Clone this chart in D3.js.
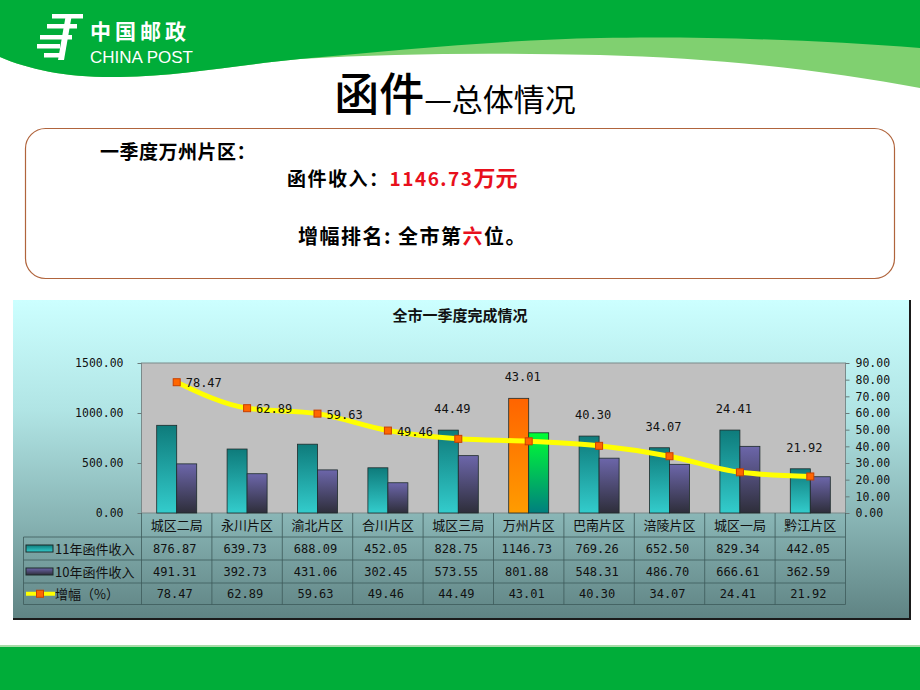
<!DOCTYPE html>
<html>
<head>
<meta charset="utf-8">
<script src="https://cdn.jsdelivr.net/npm/d3@7"></script>
<style>
  body { margin: 0; background: #fff; }
  svg { display: block; font-family: "Noto Sans CJK SC", "Noto Sans", sans-serif; }
  .num { font-family: "DejaVu Sans Mono", monospace; }
</style>
</head>
<body>
<svg id="page" width="920" height="690"></svg>
<script>
// 全市一季度完成情况 - 函件
const categories = ["城区二局", "永川片区", "渝北片区", "合川片区", "城区三局", "万州片区", "巴南片区", "涪陵片区", "城区一局", "黔江片区"];
const income11 = [876.87, 639.73, 688.09, 452.05, 828.75, 1146.73, 769.26, 652.50, 829.34, 442.05];
const income10 = [491.31, 392.73, 431.06, 302.45, 573.55, 801.88, 548.31, 486.70, 666.61, 362.59];
const growth = [78.47, 62.89, 59.63, 49.46, 44.49, 43.01, 40.30, 34.07, 24.41, 21.92];
const seriesNames = ["11年函件收入", "10年函件收入", "增幅（%）"];
const leftTicks = [0, 500, 1000, 1500];
const rightTicks = [0, 10, 20, 30, 40, 50, 60, 70, 80, 90];
const highlight = "万州片区";

const svg = d3.select("#page");
const defs = svg.append("defs");

function vGrad(id, stops) {
  const g = defs.append("linearGradient").attr("id", id)
    .attr("x1", 0).attr("y1", 0).attr("x2", 0).attr("y2", 1);
  stops.forEach(s => g.append("stop").attr("offset", s[0]).attr("stop-color", s[1]));
}
vGrad("panelBg", [[0, "#ccffff"], [0.35, "#b0e4e4"], [0.7, "#86b2b2"], [1, "#5f8383"]]);
vGrad("teal", [[0, "#0e7b7b"], [1, "#33cccc"]]);
vGrad("purple", [[0, "#6c66aa"], [1, "#2e2e3a"]]);
vGrad("orange", [[0, "#ff6400"], [1, "#ff9c00"]]);
vGrad("green", [[0, "#00ff33"], [1, "#007f7f"]]);

// ---- page header ----
svg.append("path")
  .attr("d", "M0,0H920V88C830,71 720,58 600,55C500,53 400,53 300,59C230,66 180,76 120,77C70,78 30,70 0,57Z")
  .attr("fill", "#80d070");
svg.append("path")
  .attr("d", "M0,0H920V48C820,40 700,36 600,38C500,40 400,50 300,59C230,66 180,76 120,77C70,78 30,70 0,57Z")
  .attr("fill", "#00ad39");

// China Post logo (simplified)
const logo = svg.append("g").attr("fill", "#fff");
[[52, 14, 31], [47, 24, 30], [40, 35, 32], [37, 44, 23], [44, 53, 20]].forEach(d => {
  logo.append("rect").attr("x", d[0]).attr("y", d[1]).attr("width", d[2]).attr("height", 4.5);
});
logo.append("path").attr("d", "M66,14 L72,14 L64,60 L58,60 Z");
svg.append("text").attr("x", 90).attr("y", 39)
  .attr("fill", "#fff").attr("font-size", 21).attr("font-weight", 700)
  .attr("letter-spacing", 4).text("中国邮政");
svg.append("text").attr("x", 90).attr("y", 63)
  .attr("fill", "#fff").attr("font-size", 17).attr("font-family", "Liberation Sans")
  .attr("textLength", 103).text("CHINA POST");

// page title
const title = svg.append("text").attr("x", 455).attr("y", 111)
  .attr("text-anchor", "middle").attr("fill", "#000");
title.append("tspan").attr("font-size", 45).attr("font-weight", 500).text("函件");
title.append("tspan").attr("font-size", 31).text("—总体情况");

// summary box
svg.append("rect").attr("x", 25.5).attr("y", 128.5).attr("width", 869).attr("height", 150)
  .attr("rx", 20).attr("fill", "#fff").attr("stroke", "#b0643c").attr("stroke-width", 1.2);
svg.append("text").attr("x", 100).attr("y", 159).attr("font-size", 19).attr("font-weight", 700)
  .attr("letter-spacing", 0.5).text("一季度万州片区：");
const t2 = svg.append("text").attr("x", 287).attr("y", 186).attr("font-size", 19).attr("font-weight", 700)
  .attr("letter-spacing", 1.5);
t2.append("tspan").text("函件收入：");
t2.append("tspan").attr("fill", "#e8101c").text("1146.73");
t2.append("tspan").attr("fill", "#e8101c").attr("font-size", 22).attr("letter-spacing", 0).text("万元");
const t3 = svg.append("text").attr("x", 298).attr("y", 244).attr("font-size", 20).attr("font-weight", 700)
  .attr("letter-spacing", 1.5);
t3.append("tspan").text("增幅排名: 全市第");
t3.append("tspan").attr("fill", "#e8101c").text("六");
t3.append("tspan").text("位。");

// bottom band
svg.append("rect").attr("x", 0).attr("y", 645).attr("width", 920).attr("height", 2).attr("fill", "#a8dca8");
svg.append("rect").attr("x", 0).attr("y", 647).attr("width", 920).attr("height", 43).attr("fill", "#00ad39");

// ---- chart panel ----
const panel = { x: 13, y: 300, w: 897, h: 319 };
svg.append("rect").attr("x", panel.x).attr("y", panel.y).attr("width", panel.w).attr("height", panel.h)
  .attr("fill", "url(#panelBg)");
svg.append("path")
  .attr("d", `M${panel.x},${panel.y + panel.h}H${panel.x + panel.w}V${panel.y}`)
  .attr("fill", "none").attr("stroke", "#1a1a1a").attr("stroke-width", 2);

svg.append("text").attr("x", 460).attr("y", 321).attr("text-anchor", "middle")
  .attr("font-size", 15).attr("font-weight", 700).attr("fill", "#111").text("全市一季度完成情况");

const plot = { left: 141.5, right: 845.5, top: 363, bottom: 513 };
const x = d3.scaleBand().domain(categories).range([plot.left, plot.right]);
const xs = d3.scaleBand().domain([0, 1]).range([0, x.bandwidth()]).paddingOuter(0.76);
const yL = d3.scaleLinear().domain([0, 1500]).range([plot.bottom, plot.top]);
const yR = d3.scaleLinear().domain([0, 90]).range([plot.bottom, plot.top]);

svg.append("rect").attr("x", plot.left).attr("y", plot.top)
  .attr("width", plot.right - plot.left).attr("height", plot.bottom - plot.top)
  .attr("fill", "#c0c0c0").attr("stroke", "#7a8a8a").attr("stroke-width", 1);

// axes
const axL = svg.append("g").attr("transform", `translate(${plot.left},0)`)
  .call(d3.axisLeft(yL).tickValues(leftTicks).tickFormat(d3.format(".2f")).tickSize(4).tickPadding(14));
const axR = svg.append("g").attr("transform", `translate(${plot.right},0)`)
  .call(d3.axisRight(yR).tickValues(rightTicks).tickFormat(d3.format(".2f")).tickSize(4).tickPadding(6));
[axL, axR].forEach(a => {
  a.select(".domain").remove();
  a.selectAll(".tick line").attr("stroke", "#6a7a7a");
  a.selectAll(".tick text").attr("font-size", 11.5).attr("fill", "#111")
    .attr("font-family", "DejaVu Sans Mono");
});

// bars
const barFill = (c, k) => c === highlight ? (k === 0 ? "url(#orange)" : "url(#green)") : (k === 0 ? "url(#teal)" : "url(#purple)");
const groups = svg.append("g").selectAll("g").data(categories).join("g")
  .attr("transform", c => `translate(${x(c)},0)`);
groups.selectAll("rect")
  .data((c, i) => [income11[i], income10[i]].map((v, k) => ({ c, v, k })))
  .join("rect")
  .attr("x", d => xs(d.k))
  .attr("width", xs.bandwidth())
  .attr("y", d => yL(d.v))
  .attr("height", d => plot.bottom - yL(d.v))
  .attr("fill", d => barFill(d.c, d.k))
  .attr("stroke", "#1d2b2b").attr("stroke-width", 0.8);

// growth line
const pts = categories.map((c, i) => [x(c) + x.bandwidth() / 2, yR(growth[i])]);
svg.append("path").datum(pts)
  .attr("d", d3.line().curve(d3.curveMonotoneX))
  .attr("fill", "none").attr("stroke", "#ffff00").attr("stroke-width", 5).attr("stroke-linecap", "round");
svg.append("g").selectAll("rect").data(pts).join("rect")
  .attr("x", d => d[0] - 3.5).attr("y", d => d[1] - 3.5).attr("width", 7).attr("height", 7)
  .attr("fill", "#ff6600").attr("stroke", "#c84000").attr("stroke-width", 1);

// data labels
svg.append("g").selectAll("text").data(categories).join("text")
  .attr("class", "num").attr("font-size", 12).attr("fill", "#111")
  .attr("x", (c, i) => i < 4 ? pts[i][0] + 9 : pts[i][0] - 6)
  .attr("y", (c, i) => i < 4 ? pts[i][1] + 5 : yL(Math.max(income11[i], income10[i])) - 17)
  .attr("text-anchor", (c, i) => i < 4 ? "start" : "middle")
  .text((c, i) => growth[i].toFixed(2));

// ---- data table ----
const tbl = { left: 23.5, rows: [513, 537, 560, 583, 604.5] };
const table = svg.append("g").attr("stroke", "#3e5a5a").attr("stroke-width", 0.8);
tbl.rows.slice(1).forEach(yy => table.append("line")
  .attr("x1", tbl.left).attr("x2", plot.right).attr("y1", yy).attr("y2", yy));
table.append("line").attr("x1", tbl.left).attr("x2", tbl.left).attr("y1", tbl.rows[1]).attr("y2", tbl.rows[4]);
categories.forEach(c => table.append("line").attr("x1", x(c)).attr("x2", x(c)).attr("y1", plot.bottom).attr("y2", tbl.rows[4]));
table.append("line").attr("x1", plot.right).attr("x2", plot.right).attr("y1", plot.bottom).attr("y2", tbl.rows[4]);

svg.append("g").selectAll("text").data(categories).join("text")
  .attr("x", c => x(c) + x.bandwidth() / 2).attr("y", 530)
  .attr("text-anchor", "middle").attr("font-size", 13).attr("fill", "#111").text(c => c);

const rowVals = [income11, income10, growth];
rowVals.forEach((vals, r) => {
  const cy = (tbl.rows[r + 1] + tbl.rows[r + 2]) / 2 + 4.5;
  svg.append("g").selectAll("text").data(vals).join("text")
    .attr("class", "num")
    .attr("x", (v, i) => x(categories[i]) + x.bandwidth() / 2 - 2).attr("y", cy)
    .attr("text-anchor", "middle").attr("font-size", 12).attr("fill", "#111")
    .text(v => v.toFixed(2));
  svg.append("text").attr("x", 55).attr("y", cy + 0.5).attr("font-size", 13).attr("fill", "#111")
    .text(seriesNames[r]);
});

// legend keys
const k1 = (tbl.rows[1] + tbl.rows[2]) / 2, k2 = (tbl.rows[2] + tbl.rows[3]) / 2, k3 = (tbl.rows[3] + tbl.rows[4]) / 2;
svg.append("rect").attr("x", 26).attr("y", k1 - 3.5).attr("width", 27).attr("height", 7)
  .attr("fill", "url(#teal)").attr("stroke", "#1d2b2b");
svg.append("rect").attr("x", 26).attr("y", k2 - 3.5).attr("width", 27).attr("height", 7)
  .attr("fill", "url(#purple)").attr("stroke", "#1d2b2b");
svg.append("line").attr("x1", 26).attr("x2", 55).attr("y1", k3).attr("y2", k3)
  .attr("stroke", "#ffff00").attr("stroke-width", 4);
svg.append("rect").attr("x", 36.5).attr("y", k3 - 3.5).attr("width", 7).attr("height", 7)
  .attr("fill", "#ff6600").attr("stroke", "#c84000");
</script>
</body>
</html>
